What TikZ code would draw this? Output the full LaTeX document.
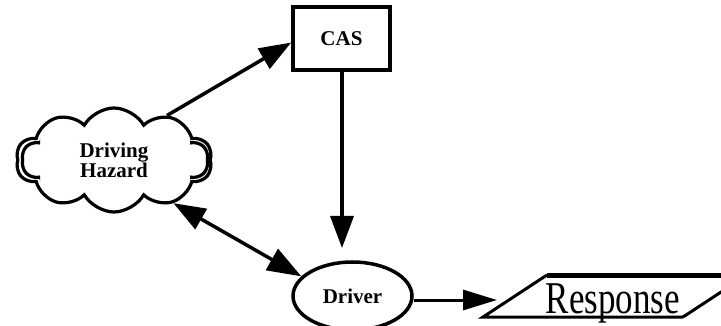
\documentclass[tikz,border=0pt]{standalone}
\usepackage{fontspec}
\setmainfont{Liberation Serif}
\usetikzlibrary{shapes.symbols,shapes.geometric,arrows.meta}
\begin{document}
\begin{tikzpicture}[x=1pt,y=-1pt,
  lbl/.style={font=\bfseries\fontsize{21}{19}\selectfont},
  outline/.style={draw, line width=3.5pt},
  link/.style={line width=3.5pt, -{Triangle[length=32pt,width=23pt]}},
  both/.style={line width=3.5pt, {Triangle[length=32pt,width=23pt]}-{Triangle[length=34pt,width=24pt]}},
  puffs/.style={cloud, cloud puffs=10, cloud puff arc=120, cloud ignores aspect, line width=3.2pt}]
\useasboundingbox (0,0) rectangle (721,326);
\clip (0,0) rectangle (721,326);

% hazard cloud, with a second, shifted outline on its flanks
\node[puffs, draw, minimum width=196pt, minimum height=104pt, lbl, align=center] (haz) at (114,160) {Driving\\Hazard};
\begin{scope}
  \clip (0,0) rectangle (40,326) (190,0) rectangle (230,326);
  \node[puffs, draw, shape border rotate=18, minimum width=186pt, minimum height=88pt] (hazb) at (115,160) {};
\end{scope}

% collision avoidance system
\node[outline, minimum width=97pt, minimum height=63pt, lbl] (cas) at (341.5,38.5) {CAS};

% driver
\node[outline, ellipse, minimum width=119pt, minimum height=68pt, lbl] (drv) at (352.5,296) {Driver};

% response parallelogram
\coordinate (p1) at (483,317);
\coordinate (p2) at (547,275);
\coordinate (p3) at (747,275);
\coordinate (p4) at (683,317);
\draw[line width=3pt, line join=miter] (p4) -- (p1) -- (p2);
\draw[line width=5pt] (p2) -- (p3);
\draw[line width=3pt] (p3) -- (p4);
\node[anchor=base, inner sep=0pt] (resp) at (613,313)
  {\scalebox{1}[1.3]{\fontsize{35}{35}\selectfont Response}};
\coordinate (resptip) at (497,300);

% connectors
\draw[link] (haz.40) -- ([yshift=-4pt]cas.west);
\coordinate (drvtop) at (342,248);
\draw[link] (cas.south -| drvtop) -- (drvtop);
\draw[both] (haz.-36) -- (drv.159);
\draw[line width=3pt, -{Triangle[length=34pt,width=20pt]}] (drv.east |- resptip) -- (resptip);
\end{tikzpicture}
\end{document}
